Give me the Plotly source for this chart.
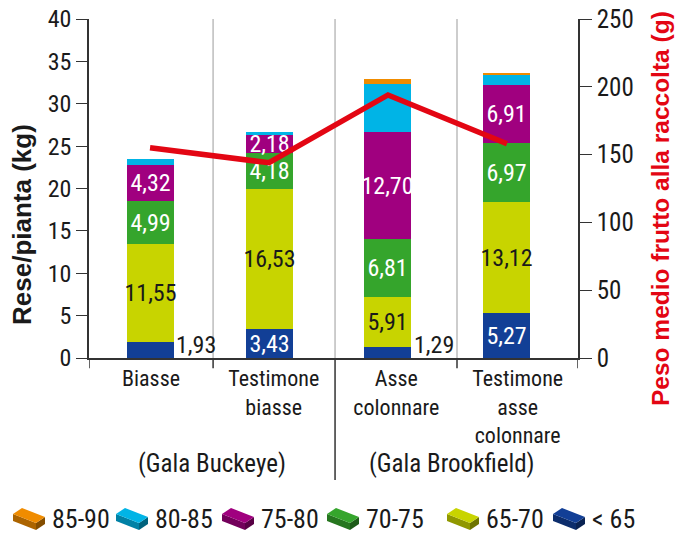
import plotly.graph_objects as go

# Data
categories = ["Biasse", "Testimone<br>biasse", "Asse<br>colonnare", "Testimone<br>asse<br>colonnare"]
groups = ["(Gala Buckeye)", "(Gala Brookfield)"]
classes = ["< 65", "65-70", "70-75", "75-80", "80-85", "85-90"]
yield_lt65 = [1.93, 3.43, 1.29, 5.27]
yield_65_70 = [11.55, 16.53, 5.91, 13.12]
yield_70_75 = [4.99, 4.18, 6.81, 6.97]
yield_75_80 = [4.32, 2.18, 12.70, 6.91]
yield_80_85 = [0.70, 0.30, 5.60, 1.10]
yield_85_90 = [0.00, 0.00, 0.60, 0.30]
fruit_weight = [155, 144, 194, 158]

series = [yield_lt65, yield_65_70, yield_70_75, yield_75_80, yield_80_85, yield_85_90]
colors = ["#123F96", "#C8D400", "#35A52C", "#A0007F", "#00B4E6", "#F08C00"]
text_colors = ["white", "#1a1a1a", "white", "white", "white", "white"]
labelled = [True, True, True, True, False, False]

NARROW = "Liberation Sans Narrow, Roboto Condensed, Arial Narrow, sans-serif"
BOLD = "Liberation Sans, Arial, sans-serif"
INK = "#1a1a1a"
RED = "#E30613"

# plot area in pixels
W, H = 675, 534
L, R, T, B = 89, 97, 19, 176
PW, PH = W - L - R, H - T - B


def px_to_paper(px, py):
    return (px - L) / PW, (H - B - py) / PH


def fmt(v):
    return f"{v:.2f}".replace(".", ",")


x = list(range(len(categories)))
fig = go.Figure()

for vals, name, col, tcol, lab in zip(series, classes, colors, text_colors, labelled):
    texts = [fmt(v) if (lab and v >= 2) else "" for v in vals]
    fig.add_trace(go.Bar(
        x=x, y=vals, name=name, marker=dict(color=col, line=dict(width=0)),
        width=0.395, text=texts, textposition="inside", insidetextanchor="middle",
        constraintext="none", textangle=0,
        textfont=dict(family=NARROW, size=24, color=tcol),
        hoverinfo="skip", showlegend=False,
    ))

# small bottom-class values written beside the bar
for i, v in enumerate(yield_lt65):
    if v < 2:
        fig.add_annotation(x=x[i], y=0, xref="x", yref="y", xshift=24, yshift=-3,
                           text=fmt(v), showarrow=False,
                           xanchor="left", yanchor="bottom",
                           font=dict(family=NARROW, size=24, color=INK))

fig.add_trace(go.Scatter(
    x=x, y=fruit_weight, yaxis="y2", mode="lines",
    line=dict(color=RED, width=5.5), showlegend=False, hoverinfo="skip",
))

# separators inside the plot
for sx in [0.53, 1.555, 2.58]:
    fig.add_shape(type="line", xref="x", yref="paper", x0=sx, x1=sx, y0=0, y1=1,
                  line=dict(color="#BDBDBD", width=1.5), layer="below")
# ticks below the axis
for sx in [-0.513, 0.53, 2.58, 3.597]:
    fig.add_shape(type="line", xref="x", yref="paper", x0=sx, x1=sx, y0=0, y1=-0.03,
                  line=dict(color="#333", width=1.5))
fig.add_shape(type="line", xref="x", yref="paper", x0=1.555, x1=1.555, y0=0, y1=-0.36,
              line=dict(color="#333", width=1.5))


def shade(hex_col, f):
    r, g, b = (int(hex_col[i:i + 2], 16) for i in (1, 3, 5))
    return f"rgb({int(r * f)},{int(g * f)},{int(b * f)})"


# legend drawn as small bricks with labels (pixel offsets, y pointing up)
legend_order = list(reversed(range(len(classes))))
icon_left = [13, 116, 222, 327, 447, 553]
legend_y = 519
top_face = "M0,5 L9,11 L32,2 L23,-4 Z"
front_face = "M0,5 L23,-4 L23,-11 L0,-2 Z"
side_face = "M23,-4 L32,2 L32,-5 L23,-11 Z"
for k, idx in enumerate(legend_order):
    ax, ay = px_to_paper(icon_left[k], legend_y)
    for path, f in [(front_face, 0.72), (side_face, 0.55), (top_face, 1.0)]:
        fig.add_shape(type="path", path=path, xref="paper", yref="paper",
                      xsizemode="pixel", ysizemode="pixel", xanchor=ax, yanchor=ay,
                      fillcolor=shade(colors[idx], f), line=dict(width=0))
    tx, ty = px_to_paper(icon_left[k] + 37, legend_y)
    fig.add_annotation(text=classes[idx], xref="paper", yref="paper", x=tx, y=ty,
                       xanchor="left", yanchor="middle", showarrow=False,
                       font=dict(family=NARROW, size=26, color=INK))

tick_pos = [0.008, 1.04, 2.07, 3.09]
fig.update_layout(
    width=W, height=H,
    margin=dict(l=L, r=R, t=T, b=B),
    paper_bgcolor="white", plot_bgcolor="white",
    barmode="stack", bargap=0, showlegend=False,
    font=dict(family=NARROW, size=24, color=INK),
    xaxis=dict(range=[-0.513, 3.597], tickvals=tick_pos, ticktext=categories,
               showgrid=False, zeroline=False, ticks="", showline=True,
               linecolor="#333", linewidth=1.5, automargin=False,
               tickfont=dict(family=NARROW, size=22, color=INK)),
    yaxis=dict(range=[0, 40], dtick=5, showgrid=False, zeroline=False,
               showline=True, linecolor="#333", linewidth=1.5, automargin=False,
               ticks="outside", ticklen=11, tickcolor="#333", tickwidth=1.2,
               tickfont=dict(family=NARROW, size=24, color=INK)),
    yaxis2=dict(range=[0, 250], dtick=50, overlaying="y", side="right",
                showgrid=False, zeroline=False, showline=True, automargin=False,
                linecolor="#333", linewidth=1.5,
                ticks="outside", ticklen=12, tickcolor="#333", tickwidth=1.2,
                tickfont=dict(family=NARROW, size=25, color=INK)),
)

lx, ly = px_to_paper(22, 225)
fig.add_annotation(text="<b>Rese/pianta (kg)</b>", xref="paper", yref="paper",
                   x=lx, y=ly, textangle=-90, showarrow=False,
                   xanchor="center", yanchor="middle",
                   font=dict(family=BOLD, size=26, color=INK))
rx, ry = px_to_paper(660, 209)
fig.add_annotation(text="<b>Peso medio frutto alla raccolta (g)</b>", xref="paper", yref="paper",
                   x=rx, y=ry, textangle=-90, showarrow=False,
                   xanchor="center", yanchor="middle",
                   font=dict(family=BOLD, size=24.5, color=RED))
_, gy = px_to_paper(0, 463)
for gx, g in zip([212, 452], groups):
    gxp, _ = px_to_paper(gx, 0)
    fig.add_annotation(text=g, xref="paper", yref="paper", x=gxp, y=gy, showarrow=False,
                       xanchor="center", yanchor="middle",
                       font=dict(family=NARROW, size=25, color=INK))

fig.write_html("out.html")
